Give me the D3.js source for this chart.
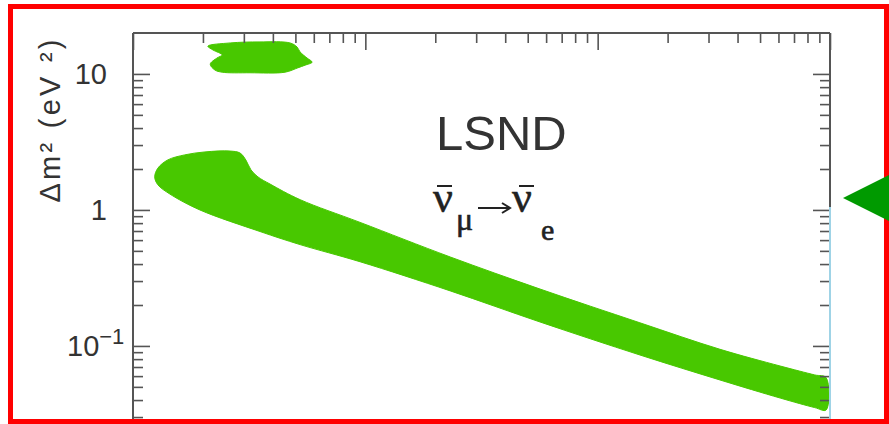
<!DOCTYPE html>
<html>
<head>
<meta charset="utf-8">
<script src="https://cdn.jsdelivr.net/npm/d3@7"></script>
<style>
body{margin:0;background:#fff;}
svg{display:block;}
</style>
</head>
<body>
<div id="container"></div>
<script>
let w = 889;
let h = 424;

// allowed region: x = sin^2(2theta), y = dm^2 (eV^2)
let bandUpperX = [1.24e-3, 1.28e-3, 1.41e-3, 1.67e-3, 2.04e-3, 2.62e-3, 2.89e-3, 3.06e-3, 3.22e-3, 3.45e-3, 3.89e-3, 5.24e-3, 9.49e-3, 0.0232, 0.0565, 0.152, 0.336, 0.610, 0.860, 0.962];
let bandUpperY = [1.75, 2.03, 2.33, 2.54, 2.67, 2.71, 2.62, 2.33, 1.97, 1.75, 1.55, 1.19, 0.81, 0.451, 0.262, 0.148, 0.0945, 0.0712, 0.0612, 0.0585];
let bandLowerX = [0.962, 0.860, 0.610, 0.336, 0.152, 0.0565, 0.0232, 9.49e-3, 5.24e-3, 3.52e-3, 1.94e-3, 1.44e-3, 1.28e-3];
let bandLowerY = [0.0338, 0.0352, 0.0414, 0.0562, 0.0858, 0.150, 0.254, 0.416, 0.556, 0.694, 1.00, 1.31, 1.53];

// small island near 10 eV^2
let islandX = [2.10e-3, 2.62e-3, 3.52e-3, 4.74e-3, 5.08e-3, 5.24e-3, 5.61e-3, 5.90e-3, 5.50e-3, 5.13e-3, 4.51e-3, 3.19e-3, 2.42e-3, 2.25e-3, 2.15e-3, 2.30e-3, 2.42e-3, 2.21e-3];
let islandY = [16.0, 16.9, 17.2, 16.9, 15.8, 14.5, 13.1, 12.2, 11.6, 11.1, 10.3, 10.2, 10.3, 10.7, 11.8, 13.1, 13.8, 15.0];

let yMajor = [0.1, 1, 10];
let yLabels = ["10", "1", "10"];
let xMajor = [1e-3, 1e-2, 1e-1, 1];

let plotL = 133, plotR = 830, plotT = 33, plotB = 441;

let viz = d3.select("#container").append("svg")
  .attr("width", w)
  .attr("height", h)
  .style("background-color", "white");

let x = d3.scaleLog().domain([1e-3, 1]).range([plotL, plotR]);
let y = d3.scaleLog().domain([0.02, 20]).range([plotB, plotT]);

function minors(lo, hi){
  let out = [];
  for (let d = lo; d < hi; d *= 10){
    for (let k = 2; k <= 9; k++){
      let v = k * d;
      if (v < hi) out.push(v);
    }
  }
  return out;
}

let xMinor = minors(1e-3, 1);
let yMinor = minors(0.01, 20).filter(v => v >= 0.02 && v < 20);

let green = "#48c800";
let zip = (xs, ys) => xs.map((v, i) => [v, ys[i]]);

let line = d3.line()
  .x(d => x(d[0]))
  .y(d => y(d[1]))
  .curve(d3.curveCatmullRomClosed.alpha(0.5));

let band = zip(bandUpperX, bandUpperY).concat(zip(bandLowerX, bandLowerY));
viz.append("path")
  .attr("d", line(band))
  .attr("fill", green)
  .attr("stroke", green)
  .attr("stroke-width", 1);

viz.append("path")
  .attr("d", line(zip(islandX, islandY)))
  .attr("fill", green)
  .attr("stroke", green)
  .attr("stroke-width", 1);

// axes, ticks pointing inward
let axisCol = "#555";
function styleAxis(g){
  g.select(".domain").remove();
  g.selectAll("line").attr("stroke", axisCol).attr("stroke-width", 1.6);
}

viz.append("g").attr("transform", `translate(0,${plotT})`)
  .call(d3.axisTop(x).tickValues(xMinor).tickSize(-10).tickSizeOuter(0).tickFormat(""))
  .call(styleAxis);
viz.append("g").attr("transform", `translate(0,${plotT})`)
  .call(d3.axisTop(x).tickValues(xMajor).tickSize(-17).tickSizeOuter(0).tickFormat(""))
  .call(styleAxis);

viz.append("g").attr("transform", `translate(${plotR},0)`)
  .call(d3.axisRight(y).tickValues(yMinor).tickSize(-10).tickSizeOuter(0).tickFormat(""))
  .call(styleAxis);
viz.append("g").attr("transform", `translate(${plotR},0)`)
  .call(d3.axisRight(y).tickValues(yMajor).tickSize(-17).tickSizeOuter(0).tickFormat(""))
  .call(styleAxis);

viz.append("g").attr("transform", `translate(${plotL},0)`)
  .call(d3.axisLeft(y).tickValues(yMinor).tickSize(-10).tickSizeOuter(0).tickFormat(""))
  .call(styleAxis);

let yAxis = viz.append("g").attr("transform", `translate(${plotL},0)`)
  .call(d3.axisLeft(y).tickValues(yMajor).tickSize(-17).tickSizeOuter(0).tickPadding(26)
    .tickFormat((d, i) => yLabels[i]))
  .call(styleAxis);

yAxis.selectAll("text")
  .attr("font-family", "Liberation Sans, Arial, sans-serif")
  .attr("font-size", 29)
  .attr("fill", "#333");

// 10^-1 label with superscript
yAxis.selectAll(".tick").filter(d => d === 0.1).select("text")
  .attr("text-anchor", "start")
  .attr("x", -66)
  .text("10")
  .append("tspan")
  .attr("dy", "-0.55em")
  .attr("font-size", 22)
  .text("\u22121");

// frame
viz.append("line").attr("x1", plotL).attr("x2", plotR).attr("y1", plotT).attr("y2", plotT)
  .attr("stroke", axisCol).attr("stroke-width", 2);
viz.append("line").attr("x1", plotL).attr("x2", plotL).attr("y1", plotT).attr("y2", plotB)
  .attr("stroke", axisCol).attr("stroke-width", 2);
viz.append("line").attr("x1", plotR).attr("x2", plotR).attr("y1", plotT).attr("y2", y(1.05))
  .attr("stroke", axisCol).attr("stroke-width", 2);
viz.append("line").attr("x1", plotR).attr("x2", plotR).attr("y1", y(1.05)).attr("y2", plotB)
  .attr("stroke", "#9fd3e6").attr("stroke-width", 2);

// y label
viz.append("text")
  .attr("transform", "translate(60,121) rotate(-90)")
  .attr("text-anchor", "middle")
  .attr("font-family", "Liberation Sans, Arial, sans-serif")
  .attr("font-size", 29)
  .attr("fill", "#333")
  .attr("textLength", 163)
  .attr("lengthAdjust", "spacing")
  .text("\u0394m\u00b2 (eV \u00b2)");

// annotations
viz.append("text")
  .attr("x", 436).attr("y", 150)
  .attr("font-family", "Liberation Sans, Arial, sans-serif")
  .attr("font-size", 49)
  .attr("fill", "#333")
  .text("LSND");

let serif = "Liberation Serif, Times New Roman, serif";
let ink = "#222";
function glyph(px, py, size, t){
  viz.append("text").attr("x", px).attr("y", py)
    .attr("font-family", serif).attr("font-size", size)
    .attr("fill", ink).attr("stroke", ink).attr("stroke-width", 0.6)
    .text(t);
}
glyph(433, 212, 44, "\u03bd");
glyph(456, 230, 32, "\u03bc");
glyph(512, 212, 44, "\u03bd");
glyph(541, 240, 30, "e");
viz.append("path")
  .attr("d", "M437,186H452M519,186H534")
  .attr("stroke", ink).attr("stroke-width", 2);
viz.append("path")
  .attr("d", "M478,208H509M502,203L510,208L502,213")
  .attr("fill", "none").attr("stroke", ink).attr("stroke-width", 2);

// red border and arrow
viz.append("rect")
  .attr("x", 10.5).attr("y", 6.5).attr("width", 876).attr("height", 415)
  .attr("fill", "none").attr("stroke", "red").attr("stroke-width", 5);

viz.append("path")
  .attr("d", "M843,198L893,173L893,223Z")
  .attr("fill", "#009a00");
</script>
</body>
</html>
